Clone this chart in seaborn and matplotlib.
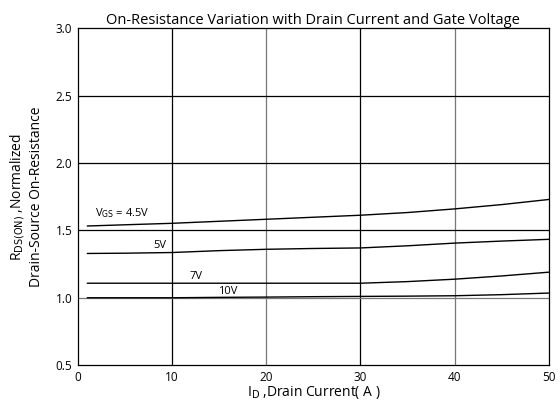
import pandas as pd
import matplotlib
matplotlib.use("Agg")
import matplotlib.pyplot as plt
import seaborn as sns

# Data
current = [1, 5, 10, 15, 20, 25, 30, 35, 40, 45, 50]
r_45v = [1.533, 1.542, 1.553, 1.568, 1.583, 1.598, 1.613, 1.633, 1.660, 1.692, 1.730]
r_5v = [1.329, 1.331, 1.336, 1.350, 1.360, 1.366, 1.370, 1.386, 1.406, 1.421, 1.434]
r_7v = [1.108, 1.108, 1.108, 1.108, 1.108, 1.108, 1.108, 1.120, 1.138, 1.162, 1.190]
r_10v = [1.000, 1.000, 1.000, 1.003, 1.005, 1.008, 1.010, 1.012, 1.015, 1.023, 1.035]
vgs_labels = ["4.5V", "5V", "7V", "10V"]

df = pd.concat([
    pd.DataFrame({"I_D": current, "R": vals, "VGS": lab})
    for vals, lab in zip([r_45v, r_5v, r_7v, r_10v], vgs_labels)
])

sns.set_style("white")
plt.rcParams["font.family"] = ["Open Sans", "DejaVu Sans"]
plt.rcParams["text.color"] = "black"
plt.rcParams["axes.labelcolor"] = "black"
plt.rcParams["xtick.color"] = "black"
plt.rcParams["ytick.color"] = "black"

fig = plt.figure(figsize=(5.6, 4.07), dpi=100)
ax = fig.add_axes([0.139, 0.103, 0.841, 0.827])

sns.lineplot(data=df, x="I_D", y="R", hue="VGS", palette=["black"] * 4,
             linewidth=1.0, legend=False, ax=ax)

ax.set_xlim(0, 50)
ax.set_ylim(0.5, 3.0)
ax.set_xticks([0, 10, 20, 30, 40, 50])
ax.set_yticks([0.5, 1.0, 1.5, 2.0, 2.5, 3.0])
ax.set_yticklabels(["0.5", "1.0", "1.5", "2.0", "2.5", "3.0"])
ax.tick_params(length=0, labelsize=8.5, pad=4)

# grid lines, alternating black / gray like the datasheet
for i, x in enumerate([10, 20, 30, 40]):
    ax.axvline(x, color="black" if i % 2 == 0 else "#777777", lw=0.9, zorder=0)
for i, y in enumerate([1.0, 1.5, 2.0, 2.5]):
    ax.axhline(y, color="#777777" if i == 0 else "black", lw=0.9, zorder=0)

for s in ax.spines.values():
    s.set_color("black")
    s.set_linewidth(0.9)

ax.set_title("On-Resistance Variation with Drain Current and Gate Voltage",
             fontsize=10.5, pad=3)
ax.set_xlabel(r"I$_{\rm D}$ ,Drain Current( A )", fontsize=10, labelpad=0)
ax.set_ylabel("R$_{\\rm DS(ON)}$ ,Normalized\nDrain-Source On-Resistance",
              fontsize=10, labelpad=8)

ax.text(1.8, 1.63, r"V$_{\rm GS}$ = 4.5V", fontsize=8, va="center")
ax.text(8.0, 1.39, "5V", fontsize=8, va="center")
ax.text(11.9, 1.16, "7V", fontsize=8, va="center")
ax.text(14.9, 1.05, "10V", fontsize=8, va="center")

fig.savefig("out.png", dpi=100)
